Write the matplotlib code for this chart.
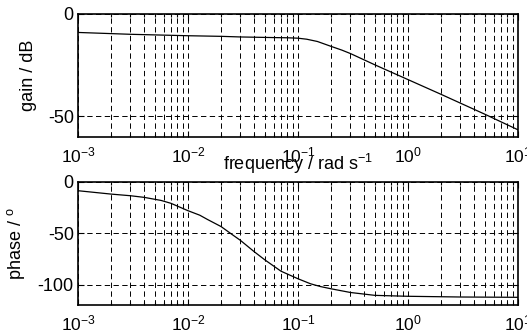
import matplotlib
matplotlib.use("Agg")
import matplotlib.pyplot as plt
from matplotlib.ticker import LogLocator, FixedLocator, NullFormatter, LogFormatterMathtext

plt.rcParams['font.family'] = ['Liberation Sans', 'DejaVu Sans']
plt.rcParams['mathtext.fontset'] = 'custom'
plt.rcParams['mathtext.rm'] = 'Liberation Sans'
plt.rcParams['mathtext.it'] = 'Liberation Sans:italic'
plt.rcParams['axes.unicode_minus'] = False
plt.rcParams['font.size'] = 13

gain_freq = [0.001, 0.003, 0.01, 0.02, 0.03, 0.06, 0.08, 0.1, 0.12, 0.15, 0.2, 0.25, 0.3, 0.5, 0.7, 1, 2, 3, 5, 10]
gain_db = [-9.0, -9.9, -10.6, -10.9, -11.2, -11.5, -11.6, -11.8, -12.3, -13.4, -15.8, -17.6, -19.3, -24.8, -28.3, -32.0, -39.2, -43.5, -48.9, -56.5]

phase_freq = [0.001, 0.002, 0.003, 0.004, 0.0057, 0.007, 0.01, 0.0128, 0.015, 0.02, 0.025, 0.03, 0.04, 0.05, 0.07,
              0.1, 0.13, 0.16, 0.2, 0.3, 0.5, 1, 3, 10]
phase_deg = [-8.5, -11.8, -13.4, -15.0, -18.0, -20.8, -28.0, -32.4, -36.5, -43.5, -51.0, -57.0, -68.0, -76.0, -87.0,
             -94.4, -99.3, -102.0, -104.2, -107.8, -110.6, -111.5, -112.2, -112.5]

gain_yticks = [-50, 0]
phase_yticks = [-100, -50, 0]
xlim = (1e-3, 10)

W, H = 527, 336
fig = plt.figure(figsize=(W / 100, H / 100), dpi=100)
ax1 = fig.add_axes([78 / W, 1 - 137 / H, 440 / W, 123 / H])
ax2 = fig.add_axes([78 / W, 1 - 305 / H, 440 / W, 123 / H])

grid_kw = dict(color='black', linewidth=0.7, linestyle=(0, (5.5, 3.5)))

for ax, fx, fy, ylim, yt, ylabel in [
    (ax1, gain_freq, gain_db, (-60, 0), gain_yticks, 'gain / dB'),
    (ax2, phase_freq, phase_deg, (-120, 0), phase_yticks, 'phase / $^{\\rm o}$'),
]:
    ax.plot(fx, fy, color='black', linewidth=0.9)
    ax.set_xscale('log')
    ax.set_xlim(*xlim)
    ax.set_ylim(*ylim)
    ax.xaxis.set_major_locator(LogLocator(base=10, numticks=10))
    ax.xaxis.set_minor_locator(LogLocator(base=10, subs=range(2, 10), numticks=20))
    ax.xaxis.set_major_formatter(LogFormatterMathtext())
    ax.xaxis.set_minor_formatter(NullFormatter())
    ax.yaxis.set_major_locator(FixedLocator(yt))
    ax.grid(True, which='both', axis='x', **grid_kw)
    ax.grid(True, which='major', axis='y', **grid_kw)
    ax.tick_params(which='both', direction='in', top=True, right=True, width=0.8)
    ax.tick_params(which='major', length=4)
    ax.tick_params(which='minor', length=2)
    ax.tick_params(axis='x', which='major', pad=6, labelsize=12.5)
    ax.tick_params(axis='y', which='major', pad=3, labelsize=13)
    for s in ax.spines.values():
        s.set_linewidth(1.2)
    ax.set_ylabel(ylabel, fontsize=13)

ax1.set_xlabel('frequency / rad s$^{-1}$', fontsize=13)
ax1.xaxis.label.set_va('baseline')
ax1.xaxis.set_label_coords(0.5, -0.27)
ax1.yaxis.set_label_coords(-0.093, 0.5)
ax2.yaxis.set_label_coords(-0.116, 0.5)

fig.savefig('out.png', dpi=100)
